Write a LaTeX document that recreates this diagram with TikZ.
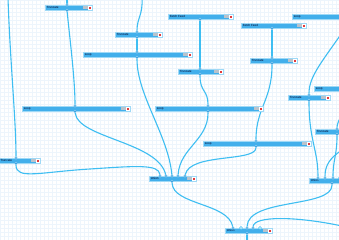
\documentclass[tikz,border=0pt]{standalone}
\usepackage{fontspec}
\setsansfont{Liberation Sans}
\definecolor{gridc}{HTML}{EDF5FC}
\definecolor{wirec}{HTML}{3EBEF2}
\definecolor{barfill}{HTML}{42AFEB}
\definecolor{bardraw}{HTML}{9FD9F6}
\definecolor{portc}{HTML}{2B95DA}
\definecolor{iconr}{HTML}{E23A3A}
\definecolor{icong}{HTML}{B9C3CC}
\pgfdeclarelayer{wires}
\pgfsetlayers{wires,main}
\tikzset{
  modbox/.style={draw=bardraw, line width=0.7pt, fill=barfill, minimum height=5pt, inner sep=0pt, outer sep=0pt, rectangle},
  modlabel/.style={inner sep=0pt, font=\sffamily\fontsize{3}{3}\selectfont, text=black!85!blue},
  iconred/.style={fill=iconr, draw=white, line width=0.2pt, minimum width=2.6pt, minimum height=2.6pt, inner sep=0pt},
  icongrey/.style={fill=icong, minimum width=5pt, minimum height=2.4pt, inner sep=0pt},
  port/.style={circle, fill=portc, draw=bardraw, line width=0.4pt, minimum size=2.8pt, inner sep=0pt},
  openport/.style={circle, fill=white, draw=wirec, line width=0.5pt, minimum size=3pt, inner sep=0pt},
  wire/.style={draw=wirec, line width=1.1pt, line cap=round}
}
\newcommand\pmodule[5]{%
  \node[modbox, minimum width={(#4)*1pt-(#2)*1pt}, anchor=north west] (#1) at (#2,#3) {};
  \node[modlabel, anchor=west] (#1-t) at ([xshift=1.6pt]#1.west) {#5};
  \node[iconred, anchor=east] (#1-x) at ([xshift=-1pt]#1.east) {};
  \node[icongrey, anchor=east] (#1-g) at ([xshift=-0.5pt]#1-x.west) {};
}
\begin{document}
\begin{tikzpicture}[x=1pt, y=-1pt]
\useasboundingbox (0,0) rectangle (339,240);
\clip (0,0) rectangle (339,240);
\begin{pgfonlayer}{wires}
\fill[white] (0,0) rectangle (339,240);
\draw[gridc, line width=0.3pt] (0,0) grid[step=4pt] (340,240);
\end{pgfonlayer}
% modules
\pmodule{T1}{45}{5}{92}{Truncate}
\pmodule{T2}{115}{32}{162}{Truncate}
\pmodule{L3}{83}{52}{192}{Loop}
\pmodule{F4}{168}{14}{233}{Fetch Feed}
\pmodule{T5}{178}{69}{223}{Truncate}
\pmodule{F6}{241}{23}{306}{Fetch Feed}
\pmodule{L7}{292}{14}{352}{Loop}
\pmodule{T8}{250}{58}{297}{Truncate}
\pmodule{L9}{22}{106}{130}{Loop}
\pmodule{L10}{155}{106}{263}{Loop}
\pmodule{L11}{203}{141}{311}{Loop}
\pmodule{L12}{314}{86}{370}{Loop}
\pmodule{T13}{288}{95}{330}{Truncate}
\pmodule{T14}{315}{129}{362}{Truncate}
\pmodule{T15}{-1.5}{158}{40}{Truncate}
\pmodule{U16}{149}{176}{196}{Union}
\pmodule{U17}{309}{178}{360}{Union}
\pmodule{U18}{225}{228}{272}{Union}
% free wire ends
\coordinate (e1) at (8,-2);
\coordinate (e2) at (67,-2);
\coordinate (e3) at (142,-2);
\coordinate (e4) at (346,27);
\coordinate (e5) at (342,114);
\coordinate (e6) at (342,150);
\coordinate (e7) at (342,226);
\coordinate (e8) at (247,242);
% ports
\node[port] (T1i) at (67,5) {}; \node[port] (T1o) at (67,10.5) {};
\node[port] (T2i) at (137,32) {}; \node[port] (T2o) at (137,37.5) {};
\node[port] (L3i) at (137,52) {}; \node[port] (L3o) at (137,57.5) {};
\node[port] (F4o) at (200,19.5) {};
\node[port] (T5i) at (200,69) {}; \node[port] (T5o) at (200,74.5) {};
\node[port] (F6o) at (272,28.5) {};
\node[port] (T8i) at (272,58) {}; \node[port] (T8o) at (272,63.5) {};
\node[port] (L9i) at (75,106) {}; \node[port] (L9o) at (75,111.5) {};
\node[port] (L10i) at (208,106) {}; \node[port] (L10o) at (208,111.5) {};
\node[port] (L11i) at (256,141) {}; \node[port] (L11o) at (256,146.5) {};
\node[port] (T13i) at (309,95) {}; \node[port] (T13o) at (309,100.5) {};
\node[port] (T14i) at (337,129) {}; \node[port] (T14o) at (337,134.5) {};
\node[port] (T15i) at (16,158) {}; \node[port] (T15o) at (16,163.5) {};
\node[port] (U16a) at (160,176) {}; \node[port] (U16b) at (166,176) {};
\node[port] (U16c) at (172,176) {}; \node[port] (U16d) at (178,176) {};
\node[port] (U16e) at (185,176) {}; \node[port] (U16o) at (172,181.5) {};
\node[port] (U17a) at (318,178) {}; \node[port] (U17b) at (325,178) {};
\node[port] (U17c) at (333,178) {}; \node[openport] (U17d) at (340,178) {};
\node[port] (U17o) at (332,183.5) {};
\node[port] (U18a) at (233,228) {}; \node[openport] (U18b) at (241,228) {};
\node[port] (U18c) at (247,228) {}; \node[port] (U18d) at (253,228) {};
\node[openport] (U18e) at (260,228) {}; \node[port] (U18o) at (247,233.5) {};
% wires
\begin{pgfonlayer}{wires}
\draw[wire] (e1) .. controls (10,60) and (16,120) .. (T15i);
\draw[wire] (e2) -- (T1i);
\draw[wire] (T1o) .. controls (70,40) and (75,80) .. (L9i);
\draw[wire] (e3) .. controls (143,15) and (137,18) .. (T2i);
\draw[wire] (T2o) -- (L3i);
\draw[wire] (L3o) .. controls (137,95) and (168,135) .. (U16c);
\draw[wire] (F4o) -- (T5i);
\draw[wire] (T5o) .. controls (200,92) and (208,90) .. (L10i);
\draw[wire] (L9o) .. controls (78,138) and (158,142) .. (U16b);
\draw[wire] (L10o) .. controls (208,140) and (180,148) .. (U16d);
\draw[wire] (T15o) .. controls (16,180) and (40,172) .. (90,169) .. controls (135,166) and (159,164) .. (U16a);
\draw[wire] (L11o) .. controls (255,162) and (190,153) .. (U16e);
\draw[wire] (F6o) -- (T8i);
\draw[wire] (T8o) .. controls (272,100) and (256,108) .. (L11i);
\draw[wire] (e4) .. controls (322,62) and (309,76) .. (T13i);
\draw[wire] (T13o) .. controls (309,140) and (318,150) .. (U17a);
\draw[wire] (e5) .. controls (339,120) and (337,124) .. (T14i);
\draw[wire] (T14o) .. controls (337,155) and (333,160) .. (U17c);
\draw[wire] (e6) .. controls (330,158) and (325,165) .. (U17b);
\draw[wire] (U16o) .. controls (173,205) and (228,203) .. (U18a);
\draw[wire] (U17o) .. controls (332,208) and (248,198) .. (U18c);
\draw[wire] (U18d) .. controls (254,216) and (295,216) .. (e7);
\draw[wire] (U18o) -- (e8);
\end{pgfonlayer}
\end{tikzpicture}
\end{document}
